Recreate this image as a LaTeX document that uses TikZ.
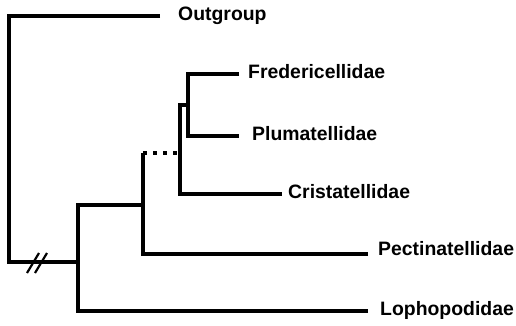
\documentclass[tikz,border=0pt]{standalone}
\usepackage{fontspec}
\setmainfont{Liberation Sans}
\usetikzlibrary{positioning,calc}
\tikzset{
branch/.style = {draw, line width=3.2pt, line join=miter},
dotbranch/.style = {draw, line width=3.2pt, dash pattern=on 4pt off 6pt},
breakmark/.style = {draw, line width=2.2pt},
taxon/.style = {inner sep=0pt, text height=13.8pt, text depth=0pt, yshift=2pt, font=\bfseries\fontsize{19.4}{22}\selectfont}
}
\begin{document}
\begin{tikzpicture}[x=1pt,y=-1pt]
  \useasboundingbox (0,0) rectangle (516,326);
  \coordinate (tOut) at (160,16);
  \coordinate (base) at (9,262);
  \coordinate (n1) at (78,262);
  \coordinate (n2) at (143,205);
  \coordinate (n2top) at (143,153);
  \coordinate (n3) at (180,153);
  \coordinate (n3top) at (180,105);
  \coordinate (n4) at (188,105);
  \coordinate (tFred) at (239,74);
  \coordinate (tPlum) at (239,136);
  \coordinate (tCris) at (282,194);
  \coordinate (tPect) at (368,254);
  \coordinate (tLoph) at (368,311);

  \node [taxon, right=18pt of tOut] (out) {Outgroup};
  \node [taxon, right=9pt of tFred] (fred) {Fredericellidae};
  \node [taxon, right=13pt of tPlum] (plum) {Plumatellidae};
  \node [taxon, right=6pt of tCris] (cris) {Cristatellidae};
  \node [taxon, right=10pt of tPect, yshift=3pt] (pect) {Pectinatellidae};
  \node [taxon, right=12pt of tLoph] (loph) {Lophopodidae};

  \draw [branch] (tOut) -| (base) -- (n1);
  \draw [breakmark] ($(base)+(18,11)$) -- ++(12,-20);
  \draw [breakmark] ($(base)+(26,11)$) -- ++(12,-20);
  \draw [branch] (tLoph) -| (n1) |- (n2);
  \draw [branch] (tPect) -| (n2) -- (n2top);
  \draw [dotbranch] (n2top) -- (n3);
  \draw [branch] (tCris) -| (n3) -- (n3top) -- (n4);
  \draw [branch] (tFred) -| (n4) |- (tPlum);
\end{tikzpicture}
\end{document}
